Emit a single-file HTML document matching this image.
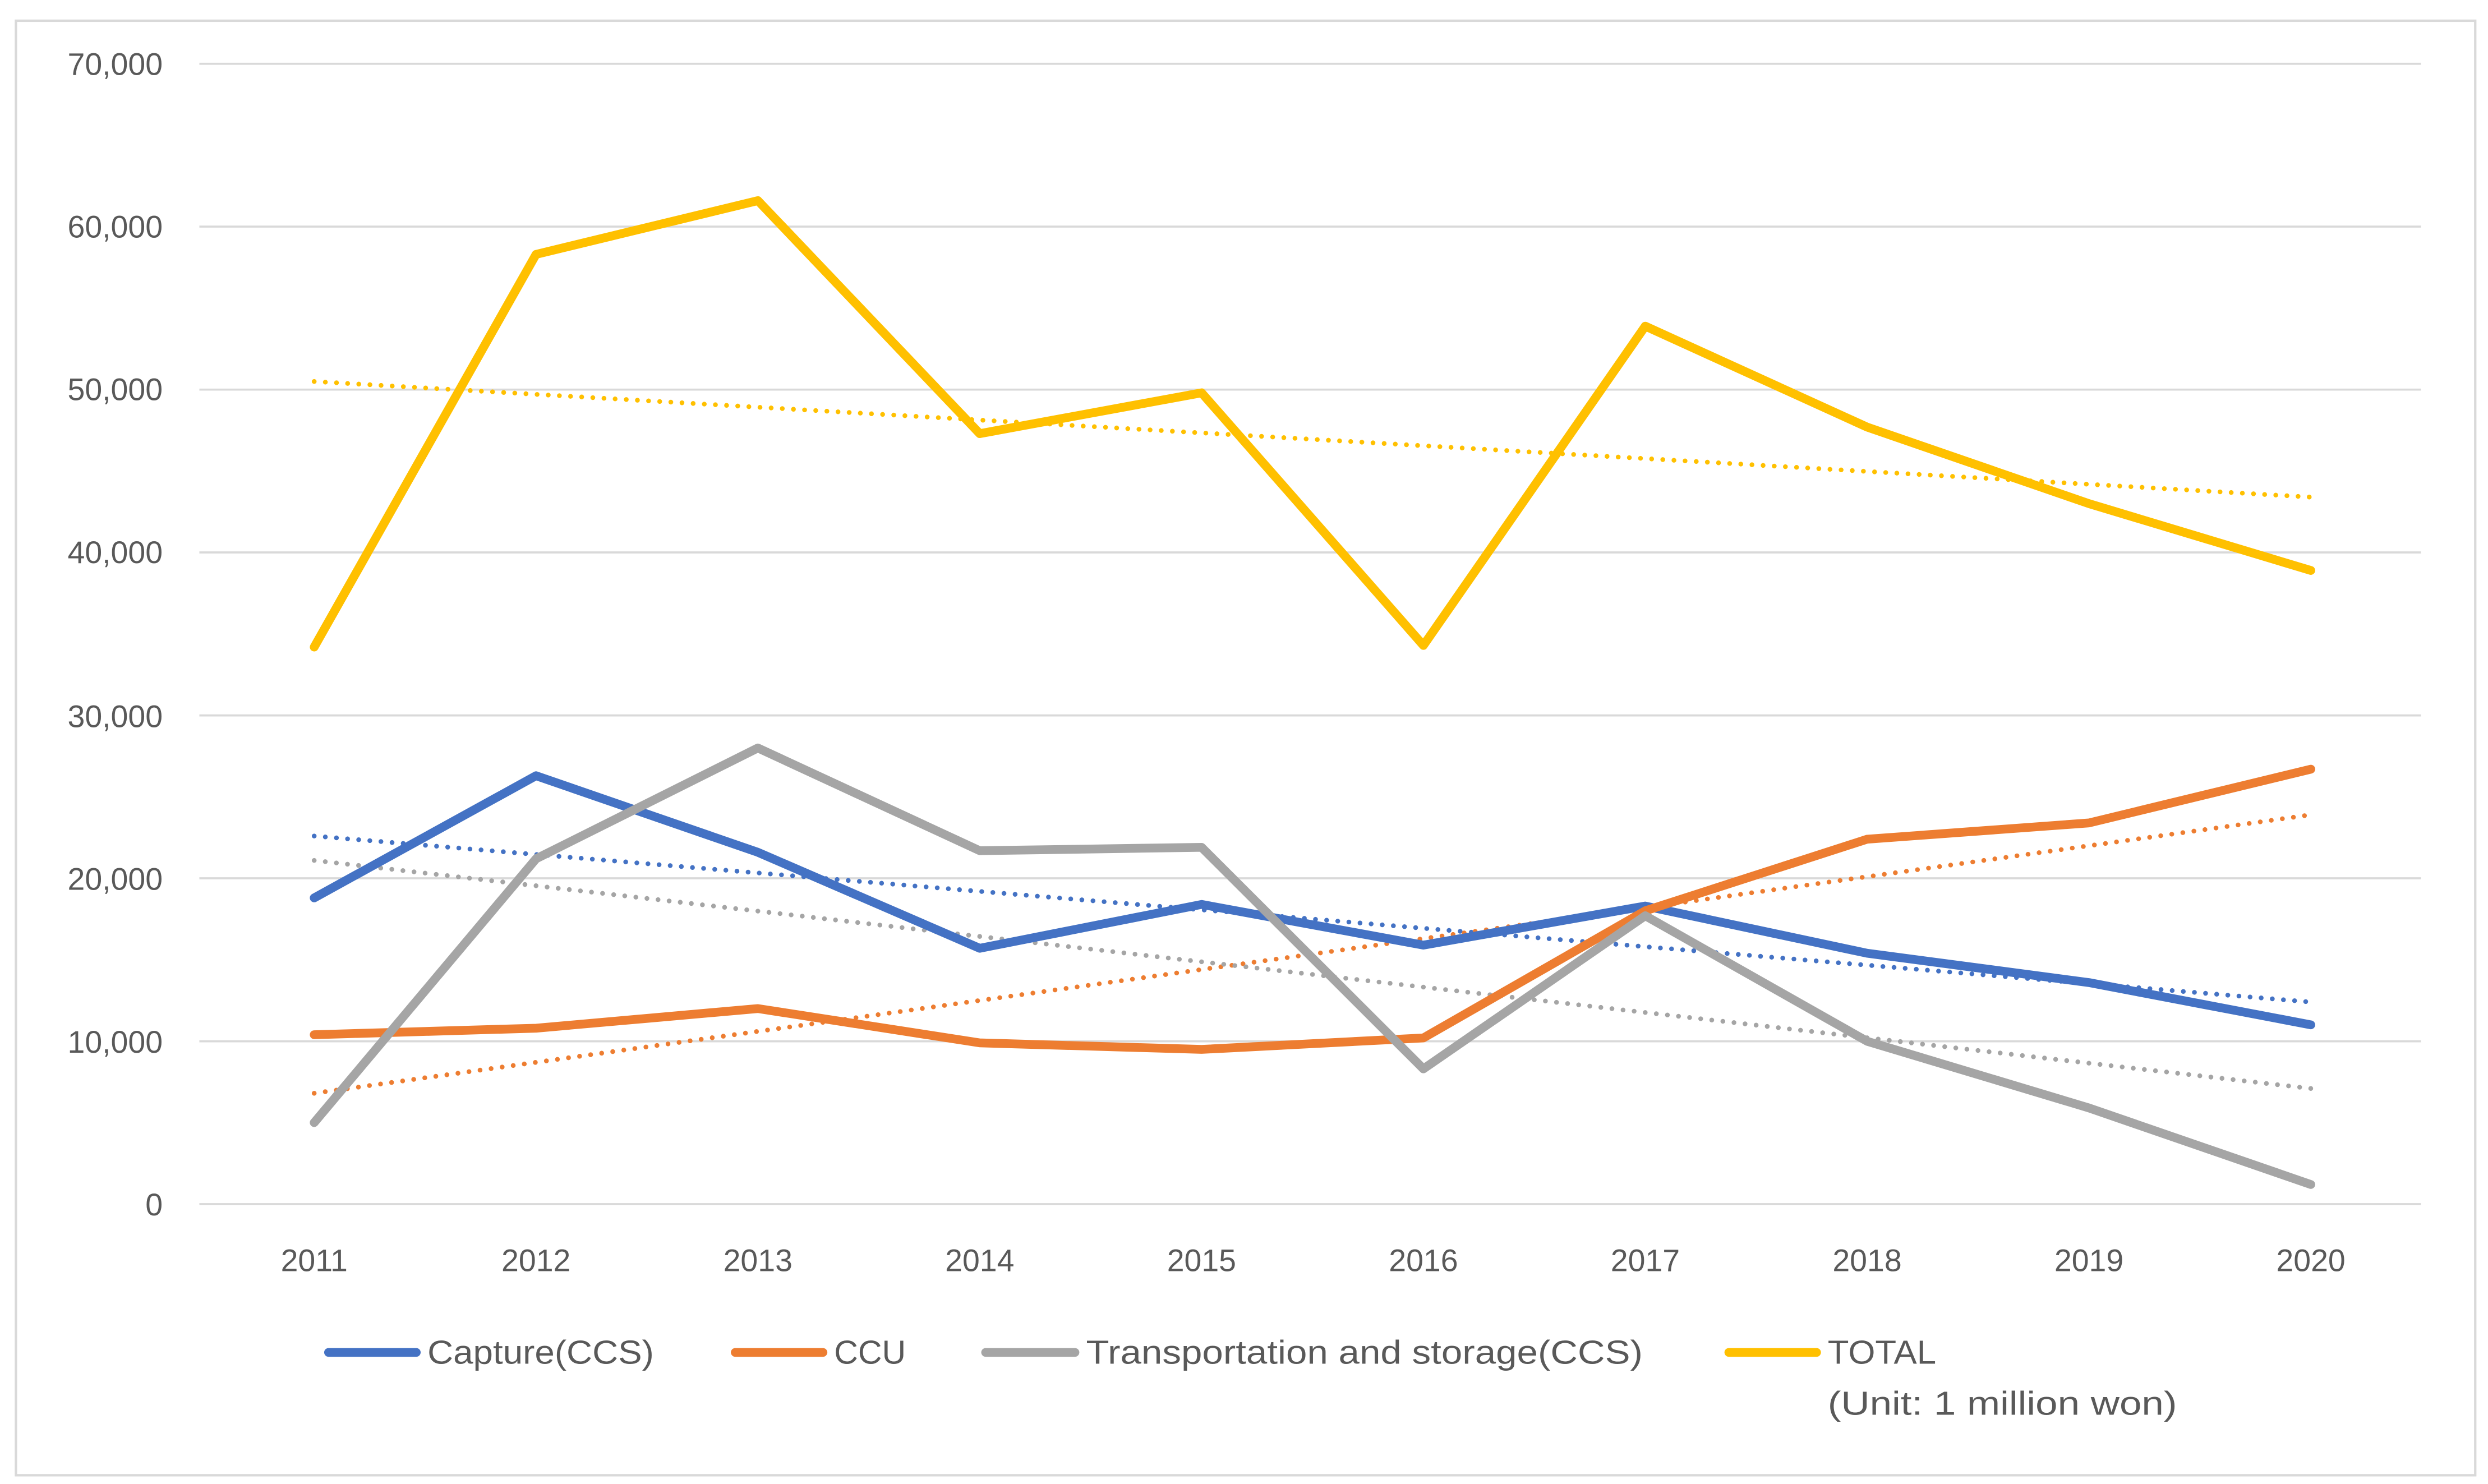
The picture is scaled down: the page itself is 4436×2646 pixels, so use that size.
<!DOCTYPE html>
<html><head><meta charset="utf-8"><style>html,body{margin:0;padding:0;background:#fff}svg{display:block}</style></head>
<body>
<svg width="4436" height="2646" viewBox="0 0 1560 930.5" preserveAspectRatio="none" xmlns="http://www.w3.org/2000/svg" font-family="'Liberation Sans', sans-serif" fill="#595959">
<rect x="0" y="0" width="1560" height="930.5" fill="#fff"/>
<rect x="10" y="13" width="1542" height="912" fill="none" stroke="#d9d9d9" stroke-width="1.5"/>
<g stroke="#d9d9d9" stroke-width="1.3">
<line x1="125" x2="1518" y1="40" y2="40"/>
<line x1="125" x2="1518" y1="142.1" y2="142.1"/>
<line x1="125" x2="1518" y1="244.3" y2="244.3"/>
<line x1="125" x2="1518" y1="346.4" y2="346.4"/>
<line x1="125" x2="1518" y1="448.6" y2="448.6"/>
<line x1="125" x2="1518" y1="550.7" y2="550.7"/>
<line x1="125" x2="1518" y1="652.9" y2="652.9"/>
<line x1="125" x2="1518" y1="755" y2="755"/>
</g>
<g font-size="19.5" text-anchor="end">
<text x="102" y="47">70,000</text>
<text x="102" y="149">60,000</text>
<text x="102" y="251">50,000</text>
<text x="102" y="353">40,000</text>
<text x="102" y="456">30,000</text>
<text x="102" y="558">20,000</text>
<text x="102" y="660">10,000</text>
<text x="102" y="762">0</text>
</g>
<g font-size="19.5" text-anchor="middle">
<text x="197" y="797">2011</text><text x="336.1" y="797">2012</text><text x="475.2" y="797">2013</text><text x="614.3" y="797">2014</text><text x="753.4" y="797">2015</text><text x="892.5" y="797">2016</text><text x="1031.6" y="797">2017</text><text x="1170.7" y="797">2018</text><text x="1309.8" y="797">2019</text><text x="1448.9" y="797">2020</text>
</g>
<g fill="none" stroke-width="3" stroke-linecap="round" stroke-dasharray="0 7">
<line x1="197" y1="239.2" x2="1448.9" y2="311.7" stroke="#ffc000"/>
<line x1="197" y1="524.2" x2="1448.9" y2="628.3" stroke="#4472c4"/>
<line x1="197" y1="685.5" x2="1448.9" y2="510.9" stroke="#ed7d31"/>
<line x1="197" y1="539.5" x2="1448.9" y2="682.5" stroke="#a5a5a5"/>
</g>
<g fill="none" stroke-width="5.5" stroke-linecap="round" stroke-linejoin="round">
<polyline stroke="#4472c4" points="197,563 336.1,486.4 475.2,534.4 614.3,594.6 753.4,567.1 892.5,592.6 1031.6,568.1 1170.7,597.7 1309.8,616.1 1448.9,642.6"/>
<polyline stroke="#ed7d31" points="197,648.8 336.1,644.7 475.2,632.4 614.3,653.9 753.4,658 892.5,650.8 1031.6,571.1 1170.7,526.2 1309.8,516 1448.9,482.3"/>
<polyline stroke="#a5a5a5" points="197,703.9 336.1,538.5 475.2,469 614.3,533.4 753.4,531.3 892.5,670.2 1031.6,574.2 1170.7,652.9 1309.8,694.7 1448.9,742.7"/>
<polyline stroke="#ffc000" points="197,405.7 336.1,159.5 475.2,125.8 614.3,271.9 753.4,246.3 892.5,404.7 1031.6,204.5 1170.7,267.8 1309.8,315.8 1448.9,357.7"/>
</g>
<g stroke-width="5.5" stroke-linecap="round">
<line x1="206" y1="848" x2="261" y2="848" stroke="#4472c4"/>
<line x1="461" y1="848" x2="516" y2="848" stroke="#ed7d31"/>
<line x1="618" y1="848" x2="674" y2="848" stroke="#a5a5a5"/>
<line x1="1084" y1="848" x2="1139" y2="848" stroke="#ffc000"/>
</g>
<g font-size="21">
<text x="268" y="855" textLength="142" lengthAdjust="spacingAndGlyphs">Capture(CCS)</text>
<text x="523" y="855" textLength="45" lengthAdjust="spacingAndGlyphs">CCU</text>
<text x="681" y="855" textLength="349" lengthAdjust="spacingAndGlyphs">Transportation and storage(CCS)</text>
<text x="1146" y="855" textLength="68" lengthAdjust="spacingAndGlyphs">TOTAL</text>
<text x="1146" y="887" textLength="219" lengthAdjust="spacingAndGlyphs">(Unit: 1 million won)</text>
</g>
</svg>
</body></html>
